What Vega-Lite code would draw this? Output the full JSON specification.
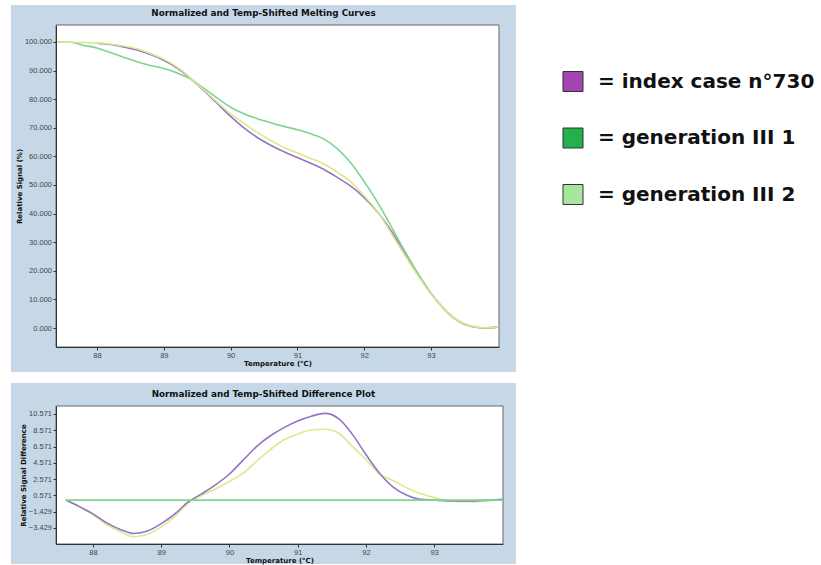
{
  "$schema": "https://vega.github.io/schema/vega-lite/v6.json",
  "padding": {"left": 10, "top": 5, "right": 0, "bottom": 2},
  "background": "white",
  "config": {
    "view": {"stroke": null},
    "axis": {
      "zindex": 1,
      "labelFont": "Liberation Sans",
      "labelFontSize": 7.5,
      "labelColor": "#444",
      "titleFont": "DejaVu Sans",
      "titleFontSize": 7,
      "titleFontWeight": "bold",
      "titleColor": "#111",
      "tickSize": 3,
      "tickColor": "#333",
      "domainColor": "#333",
      "grid": false,
      "labelPadding": 1.5,
      "titlePadding": 2
    },
    "axisX": {"titlePadding": 0}
  },
  "datasets": {
    "melt": [
      {"t": 87.4, "index": null, "gen1": 100, "gen2": 100},
      {"t": 87.6, "index": null, "gen1": 99.9, "gen2": 99.9},
      {"t": 87.8, "index": null, "gen1": 98.8, "gen2": 99.8},
      {"t": 88.0, "index": 99.6, "gen1": 97.9, "gen2": 99.7},
      {"t": 88.2, "index": 99.1, "gen1": 96.3, "gen2": 99.3},
      {"t": 88.4, "index": 98.3, "gen1": 94.7, "gen2": 98.6},
      {"t": 88.6, "index": 97.2, "gen1": 93.1, "gen2": 97.6},
      {"t": 88.8, "index": 95.6, "gen1": 91.8, "gen2": 96.0},
      {"t": 89.0, "index": 93.6, "gen1": 90.7, "gen2": 94.0},
      {"t": 89.2, "index": 90.9, "gen1": 89.2, "gen2": 91.2},
      {"t": 89.4, "index": 87.3, "gen1": 87.1, "gen2": 87.45},
      {"t": 89.6, "index": 83.0, "gen1": 83.8, "gen2": 83.2},
      {"t": 89.8, "index": 78.5, "gen1": 80.4, "gen2": 79.0},
      {"t": 90.0, "index": 74.0, "gen1": 77.2, "gen2": 74.9},
      {"t": 90.2, "index": 70.0, "gen1": 74.9, "gen2": 71.6},
      {"t": 90.4, "index": 66.6, "gen1": 73.2, "gen2": 68.4},
      {"t": 90.6, "index": 63.9, "gen1": 71.8, "gen2": 65.6},
      {"t": 90.8, "index": 61.6, "gen1": 70.5, "gen2": 63.1},
      {"t": 91.0, "index": 59.6, "gen1": 69.3, "gen2": 61.2},
      {"t": 91.2, "index": 57.6, "gen1": 67.9, "gen2": 59.3},
      {"t": 91.4, "index": 55.4, "gen1": 66.05, "gen2": 57.35},
      {"t": 91.6, "index": 52.6, "gen1": 62.6, "gen2": 54.4},
      {"t": 91.8, "index": 49.6, "gen1": 57.7, "gen2": 51.1},
      {"t": 92.0, "index": 45.6, "gen1": 51.2, "gen2": 46.2},
      {"t": 92.2, "index": 40.6, "gen1": 43.9, "gen2": 40.7},
      {"t": 92.4, "index": 34.1, "gen1": 35.7, "gen2": 33.3},
      {"t": 92.6, "index": 26.6, "gen1": 27.2, "gen2": 25.7},
      {"t": 92.8, "index": 19.1, "gen1": 19.2, "gen2": 18.4},
      {"t": 93.0, "index": 12.1, "gen1": 12.1, "gen2": 11.8},
      {"t": 93.2, "index": 6.6, "gen1": 6.5, "gen2": 6.6},
      {"t": 93.4, "index": 2.6, "gen1": 2.5, "gen2": 2.7},
      {"t": 93.6, "index": 0.6, "gen1": 0.5, "gen2": 0.7},
      {"t": 93.8, "index": 0.0, "gen1": 0.0, "gen2": 0.1},
      {"t": 94.0, "index": 0.3, "gen1": 0.4, "gen2": 0.3}
    ],
    "diff": [
      {"t": 87.6, "index": 0, "gen1": 0, "gen2": 0},
      {"t": 87.8, "index": -0.8, "gen1": 0, "gen2": -0.8},
      {"t": 88.0, "index": -1.7, "gen1": 0, "gen2": -1.8},
      {"t": 88.2, "index": -2.8, "gen1": 0, "gen2": -3.0},
      {"t": 88.4, "index": -3.6, "gen1": 0, "gen2": -3.9},
      {"t": 88.6, "index": -4.1, "gen1": 0, "gen2": -4.5},
      {"t": 88.8, "index": -3.8, "gen1": 0, "gen2": -4.2},
      {"t": 89.0, "index": -2.9, "gen1": 0, "gen2": -3.3},
      {"t": 89.2, "index": -1.7, "gen1": 0, "gen2": -2.0},
      {"t": 89.4, "index": -0.2, "gen1": 0, "gen2": -0.35},
      {"t": 89.6, "index": 0.8, "gen1": 0, "gen2": 0.6},
      {"t": 89.8, "index": 1.9, "gen1": 0, "gen2": 1.4},
      {"t": 90.0, "index": 3.2, "gen1": 0, "gen2": 2.3},
      {"t": 90.2, "index": 4.9, "gen1": 0, "gen2": 3.3},
      {"t": 90.4, "index": 6.6, "gen1": 0, "gen2": 4.8},
      {"t": 90.6, "index": 7.9, "gen1": 0, "gen2": 6.2},
      {"t": 90.8, "index": 8.9, "gen1": 0, "gen2": 7.4},
      {"t": 91.0, "index": 9.7, "gen1": 0, "gen2": 8.1},
      {"t": 91.2, "index": 10.3, "gen1": 0, "gen2": 8.6},
      {"t": 91.4, "index": 10.65, "gen1": 0, "gen2": 8.7},
      {"t": 91.6, "index": 10.0, "gen1": 0, "gen2": 8.2},
      {"t": 91.8, "index": 8.1, "gen1": 0, "gen2": 6.6},
      {"t": 92.0, "index": 5.6, "gen1": 0, "gen2": 5.0},
      {"t": 92.2, "index": 3.3, "gen1": 0, "gen2": 3.2},
      {"t": 92.4, "index": 1.6, "gen1": 0, "gen2": 2.4},
      {"t": 92.6, "index": 0.6, "gen1": 0, "gen2": 1.5},
      {"t": 92.8, "index": 0.1, "gen1": 0, "gen2": 0.8},
      {"t": 93.0, "index": 0.0, "gen1": 0, "gen2": 0.3},
      {"t": 93.2, "index": -0.1, "gen1": 0, "gen2": -0.1},
      {"t": 93.4, "index": -0.1, "gen1": 0, "gen2": -0.2},
      {"t": 93.6, "index": -0.1, "gen1": 0, "gen2": -0.2},
      {"t": 93.8, "index": 0.0, "gen1": 0, "gen2": -0.1},
      {"t": 94.0, "index": 0.1, "gen1": 0, "gen2": 0.1}
    ],
    "legend": [
      {"key": "index", "label": "= index case n°730"},
      {"key": "gen1", "label": "= generation III 1"},
      {"key": "gen2", "label": "= generation III 2"}
    ]
  },
  "hconcat": [
    {
      "vconcat": [
        {
          "width": 443,
          "height": 322,
          "title": {"text": "Normalized and Temp-Shifted Melting Curves", "font": "DejaVu Sans", "fontSize": 8.8, "fontWeight": "bold", "color": "#111", "offset": -13, "zindex": 1, "frame": "bounds", "anchor": "middle"},
          "layer": [
            {
              "data": {"values": [{}]},
              "mark": {"type": "rect", "fill": "#c6d8e7", "clip": false},
              "encoding": {
                "x": {"datum": 86.712, "type": "quantitative", "axis": {"zindex": 1, "title": "Temperature (°C)", "values": [88, 89, 90, 91, 92, 93], "format": "d"}},
                "x2": {"datum": 94.272},
                "y": {"datum": -15.38, "type": "quantitative", "axis": {"zindex": 1, "title": "Relative Signal (%)", "values": [0, 10, 20, 30, 40, 50, 60, 70, 80, 90, 100], "format": ".3f"}},
                "y2": {"datum": 112.93}
              }
            },
            {
              "data": {"values": [{}]},
              "mark": {"type": "rect", "fill": "white", "stroke": "#666", "strokeWidth": 1, "clip": false},
              "encoding": {
                "x": {"datum": 87.386, "type": "quantitative", "axis": {"zindex": 1, "title": "Temperature (°C)", "values": [88, 89, 90, 91, 92, 93], "format": "d"}},
                "x2": {"datum": 94.018},
                "y": {"datum": -6.64, "type": "quantitative", "axis": {"zindex": 1, "title": "Relative Signal (%)", "values": [0, 10, 20, 30, 40, 50, 60, 70, 80, 90, 100], "format": ".3f"}},
                "y2": {"datum": 105.94}
              }
            },
            {
              "data": {"name": "melt"},
              "transform": [{"fold": ["index", "gen1", "gen2"], "as": ["sample", "v"]}],
              "mark": {"type": "line", "interpolate": "monotone", "strokeWidth": 1.6},
              "encoding": {
                "x": {"field": "t", "type": "quantitative", "scale": {"domain": [87.386, 94.018], "nice": false, "zero": false}, "axis": {"zindex": 1, "title": "Temperature (°C)", "values": [88, 89, 90, 91, 92, 93], "format": "d"}},
                "y": {"field": "v", "type": "quantitative", "scale": {"domain": [-6.64, 105.94], "nice": false, "zero": false}, "axis": {"zindex": 1, "title": "Relative Signal (%)", "values": [0, 10, 20, 30, 40, 50, 60, 70, 80, 90, 100], "format": ".3f"}},
                "color": {"field": "sample", "type": "nominal", "scale": {"domain": ["index", "gen1", "gen2"], "range": ["#9673c4", "#7fd493", "#dbe98f"]}, "legend": null}
              }
            }
          ]
        },
        {
          "width": 447,
          "height": 138,
          "title": {"text": "Normalized and Temp-Shifted Difference Plot", "font": "DejaVu Sans", "fontSize": 8.8, "fontWeight": "bold", "color": "#111", "offset": -16, "zindex": 1, "frame": "bounds", "anchor": "middle"},
          "layer": [
            {
              "data": {"values": [{}]},
              "mark": {"type": "rect", "fill": "#c6d8e7", "clip": false},
              "encoding": {
                "x": {"datum": 86.797, "type": "quantitative", "axis": {"zindex": 1, "title": "Temperature (°C)", "values": [88, 89, 90, 91, 92, 93], "format": "d"}},
                "x2": {"datum": 94.2},
                "y": {"datum": -7.85, "type": "quantitative", "axis": {"zindex": 1, "title": "Relative Signal Difference", "values": [-3.429, -1.429, 0.571, 2.571, 4.571, 6.571, 8.571, 10.571], "format": ".3f"}},
                "y2": {"datum": 14.38}
              }
            },
            {
              "data": {"values": [{}]},
              "mark": {"type": "rect", "fill": "white", "stroke": "#666", "strokeWidth": 1, "clip": false},
              "encoding": {
                "x": {"datum": 87.457, "type": "quantitative", "axis": {"zindex": 1, "title": "Temperature (°C)", "values": [88, 89, 90, 91, 92, 93], "format": "d"}},
                "x2": {"datum": 94.01},
                "y": {"datum": -5.394, "type": "quantitative", "axis": {"zindex": 1, "title": "Relative Signal Difference", "values": [-3.429, -1.429, 0.571, 2.571, 4.571, 6.571, 8.571, 10.571], "format": ".3f"}},
                "y2": {"datum": 11.553}
              }
            },
            {
              "data": {"name": "diff"},
              "transform": [{"fold": ["gen2", "index", "gen1"], "as": ["sample", "v"]}],
              "mark": {"type": "line", "interpolate": "monotone", "strokeWidth": 1.6},
              "encoding": {
                "x": {"field": "t", "type": "quantitative", "scale": {"domain": [87.457, 94.01], "nice": false, "zero": false}, "axis": {"zindex": 1, "title": "Temperature (°C)", "values": [88, 89, 90, 91, 92, 93], "format": "d"}},
                "y": {"field": "v", "type": "quantitative", "scale": {"domain": [-5.394, 11.553], "nice": false, "zero": false}, "axis": {"zindex": 1, "title": "Relative Signal Difference", "values": [-3.429, -1.429, 0.571, 2.571, 4.571, 6.571, 8.571, 10.571], "format": ".3f"}},
                "color": {"field": "sample", "type": "nominal", "scale": {"domain": ["index", "gen1", "gen2"], "range": ["#9673c4", "#7fd493", "#dbe98f"]}, "legend": null}
              }
            }
          ]
        }
      ],
      "spacing": 10
    },
    {
      "width": 240,
      "height": 226,
      "data": {"name": "legend"},
      "layer": [
        {
          "mark": {"type": "point", "shape": "square", "size": 400, "filled": true, "opacity": 1, "stroke": "#333", "strokeWidth": 1},
          "encoding": {
            "x": {"datum": 0, "type": "quantitative", "scale": {"domain": [0, 9.6], "nice": false, "zero": false}, "axis": null},
            "y": {"field": "key", "type": "nominal", "sort": null, "scale": {"type": "point", "padding": 1}, "axis": null},
            "color": {"field": "key", "type": "nominal", "scale": {"domain": ["index", "gen1", "gen2"], "range": ["#a345b0", "#22b14c", "#a8e6a0"]}, "legend": null}
          }
        },
        {
          "mark": {"type": "text", "align": "left", "baseline": "middle", "font": "DejaVu Sans", "fontSize": 20, "fontWeight": "bold", "color": "#111"},
          "encoding": {
            "x": {"datum": 1, "type": "quantitative"},
            "y": {"field": "key", "type": "nominal", "sort": null},
            "text": {"field": "label"}
          }
        }
      ]
    }
  ],
  "spacing": 45,
  "resolve": {"scale": {"color": "independent"}}
}
